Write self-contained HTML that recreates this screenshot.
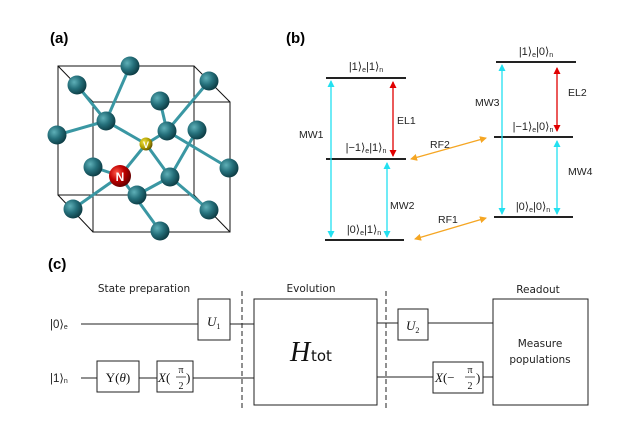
<!DOCTYPE html>
<html><head><style>body{margin:0;background:#fff}svg{display:block}</style></head><body>
<svg width="631" height="432" viewBox="0 0 631 432" xmlns="http://www.w3.org/2000/svg" font-family="Liberation Sans, DejaVu Sans, sans-serif">
<defs>
<radialGradient id="g" cx="0.35" cy="0.35" r="0.7"><stop offset="0" stop-color="#5fb0b8"/><stop offset="0.5" stop-color="#25707b"/><stop offset="1" stop-color="#0c3a42"/></radialGradient>
<radialGradient id="r" cx="0.35" cy="0.35" r="0.7"><stop offset="0" stop-color="#ff5a4a"/><stop offset="0.5" stop-color="#c00000"/><stop offset="1" stop-color="#600000"/></radialGradient>
<radialGradient id="y" cx="0.35" cy="0.35" r="0.7"><stop offset="0" stop-color="#f0e040"/><stop offset="0.6" stop-color="#b0a000"/><stop offset="1" stop-color="#605000"/></radialGradient>
<marker id="ac" markerUnits="userSpaceOnUse" markerWidth="7" markerHeight="7" refX="6" refY="3.5" orient="auto-start-reverse"><path d="M0,0 L7,3.5 L0,7z" fill="#22e0f0"/></marker>
<marker id="ar" markerUnits="userSpaceOnUse" markerWidth="7" markerHeight="7" refX="6" refY="3.5" orient="auto-start-reverse"><path d="M0,0 L7,3.5 L0,7z" fill="#e00000"/></marker>
<marker id="ao" markerUnits="userSpaceOnUse" markerWidth="7" markerHeight="7" refX="6" refY="3.5" orient="auto-start-reverse"><path d="M0,0 L7,3.5 L0,7z" fill="#f5a623"/></marker>
</defs>
<g font-weight="bold" font-size="15">
<text x="50" y="43">(a)</text><text x="286" y="43">(b)</text><text x="48" y="269">(c)</text></g>
<g fill="none" stroke="#111" stroke-width="1">
<rect x="58" y="66" width="136" height="129"/>
<rect x="93" y="102" width="137" height="130"/>
<line x1="58" y1="66" x2="93" y2="102"/><line x1="194" y1="66" x2="230" y2="102"/>
<line x1="58" y1="195" x2="93" y2="232"/><line x1="194" y1="195" x2="230" y2="232"/>
</g>
<g stroke="#3a97a3" stroke-width="3" stroke-linecap="round">
<line x1="130" y1="66" x2="106" y2="121"/><line x1="77" y1="85" x2="106" y2="121"/><line x1="57" y1="135" x2="106" y2="121"/>
<line x1="106" y1="121" x2="146" y2="144"/><line x1="209" y1="81" x2="167" y2="131"/><line x1="160" y1="101" x2="167" y2="131"/>
<line x1="167" y1="131" x2="229" y2="168"/><line x1="146" y1="144" x2="167" y2="131"/><line x1="146" y1="144" x2="170" y2="177"/>
<line x1="170" y1="177" x2="197" y2="130"/><line x1="170" y1="177" x2="137" y2="195"/><line x1="170" y1="177" x2="209" y2="210"/>
<line x1="120" y1="176" x2="146" y2="144"/><line x1="120" y1="176" x2="93" y2="167"/><line x1="120" y1="176" x2="73" y2="209"/><line x1="120" y1="176" x2="160" y2="231"/>
</g>
<g fill="url(#g)">
<circle cx="130" cy="66" r="9.5"/><circle cx="77" cy="85" r="9.5"/><circle cx="209" cy="81" r="9.5"/><circle cx="160" cy="101" r="9.5"/>
<circle cx="106" cy="121" r="9.5"/><circle cx="57" cy="135" r="9.5"/><circle cx="167" cy="131" r="9.5"/><circle cx="197" cy="130" r="9.5"/>
<circle cx="93" cy="167" r="9.5"/><circle cx="170" cy="177" r="9.5"/><circle cx="229" cy="168" r="9.5"/><circle cx="137" cy="195" r="9.5"/>
<circle cx="73" cy="209" r="9.5"/><circle cx="209" cy="210" r="9.5"/><circle cx="160" cy="231" r="9.5"/>
</g>
<circle cx="146" cy="144" r="6.5" fill="url(#y)"/><text x="146" y="148" font-size="9" font-weight="bold" fill="#fff" text-anchor="middle">V</text>
<circle cx="120" cy="176" r="11" fill="url(#r)"/><text x="120" y="181" font-size="12" font-weight="bold" fill="#fff" text-anchor="middle">N</text>
<g stroke="#222" stroke-width="2">
<line x1="326" y1="78" x2="406" y2="78"/><line x1="326" y1="159" x2="406" y2="159"/><line x1="325" y1="240" x2="404" y2="240"/>
<line x1="496" y1="62" x2="576" y2="62"/><line x1="494" y1="137" x2="573" y2="137"/><line x1="494" y1="217" x2="573" y2="217"/>
</g>
<g stroke-width="1.3" fill="none">
<line x1="331" y1="81" x2="331" y2="237" stroke="#22e0f0" marker-start="url(#ac)" marker-end="url(#ac)"/>
<line x1="387" y1="163" x2="387" y2="237" stroke="#22e0f0" marker-start="url(#ac)" marker-end="url(#ac)"/>
<line x1="393" y1="82" x2="393" y2="156" stroke="#e00000" marker-start="url(#ar)" marker-end="url(#ar)"/>
<line x1="502" y1="65" x2="502" y2="214" stroke="#22e0f0" marker-start="url(#ac)" marker-end="url(#ac)"/>
<line x1="557" y1="68" x2="557" y2="131" stroke="#e00000" marker-start="url(#ar)" marker-end="url(#ar)"/>
<line x1="557" y1="141" x2="557" y2="214" stroke="#22e0f0" marker-start="url(#ac)" marker-end="url(#ac)"/>
<line x1="411" y1="159" x2="486" y2="138" stroke="#f5a623" marker-start="url(#ao)" marker-end="url(#ao)"/>
<line x1="415" y1="239" x2="486" y2="218" stroke="#f5a623" marker-start="url(#ao)" marker-end="url(#ao)"/>
</g>
<g font-size="10.5" fill="#222">
<text x="299" y="138">MW1</text><text x="397" y="124">EL1</text><text x="390" y="209">MW2</text>
<text x="430" y="148">RF2</text><text x="438" y="223">RF1</text><text x="475" y="106">MW3</text>
<text x="568" y="96">EL2</text><text x="568" y="175">MW4</text>
</g>
<g font-size="11" fill="#222">
<text x="366" y="70" text-anchor="middle">|1⟩<tspan font-size="7" dy="2">e</tspan><tspan dy="-2">|1⟩</tspan><tspan font-size="7" dy="2">n</tspan></text>
<text x="366" y="151" text-anchor="middle">|−1⟩<tspan font-size="7" dy="2">e</tspan><tspan dy="-2">|1⟩</tspan><tspan font-size="7" dy="2">n</tspan></text>
<text x="364" y="233" text-anchor="middle">|0⟩<tspan font-size="7" dy="2">e</tspan><tspan dy="-2">|1⟩</tspan><tspan font-size="7" dy="2">n</tspan></text>
<text x="536" y="55" text-anchor="middle">|1⟩<tspan font-size="7" dy="2">e</tspan><tspan dy="-2">|0⟩</tspan><tspan font-size="7" dy="2">n</tspan></text>
<text x="533" y="130" text-anchor="middle">|−1⟩<tspan font-size="7" dy="2">e</tspan><tspan dy="-2">|0⟩</tspan><tspan font-size="7" dy="2">n</tspan></text>
<text x="533" y="210" text-anchor="middle">|0⟩<tspan font-size="7" dy="2">e</tspan><tspan dy="-2">|0⟩</tspan><tspan font-size="7" dy="2">n</tspan></text>
</g>
<g stroke="#222" stroke-width="1" fill="none">
<line x1="81" y1="324" x2="198" y2="324"/><line x1="230" y1="324" x2="254" y2="324"/><line x1="377" y1="323" x2="398" y2="323"/><line x1="428" y1="323" x2="493" y2="323"/>
<line x1="81" y1="378" x2="97" y2="378"/><line x1="139" y1="378" x2="157" y2="378"/><line x1="193" y1="378" x2="254" y2="378"/><line x1="377" y1="377" x2="433" y2="377"/><line x1="483" y1="377" x2="493" y2="377"/>
<rect x="198" y="299" width="32" height="41"/><rect x="97" y="361" width="42" height="31"/><rect x="157" y="361" width="36" height="31"/>
<rect x="254" y="299" width="123" height="106"/><rect x="398" y="309" width="30" height="31"/><rect x="433" y="362" width="50" height="31"/><rect x="493" y="299" width="95" height="106"/>
<line x1="242" y1="291" x2="242" y2="410" stroke-dasharray="5,3"/><line x1="386" y1="291" x2="386" y2="410" stroke-dasharray="5,3"/>
</g>
<g font-size="10.5" fill="#222" font-family="DejaVu Sans, sans-serif" text-anchor="middle">
<text x="144" y="292">State preparation</text><text x="311" y="292">Evolution</text><text x="538" y="293">Readout</text>
<text x="540" y="347">Measure</text><text x="540" y="363">populations</text>
</g>
<g font-size="11.5" fill="#222">
<text x="50" y="328">|0⟩<tspan font-size="7" dy="1">e</tspan></text>
<text x="50" y="382">|1⟩<tspan font-size="7" dy="1">n</tspan></text>
</g>
<g font-family="Liberation Serif, serif" fill="#111">
<text x="207" y="326" font-size="13" font-style="italic">U<tspan font-size="8" dy="3" font-style="normal">1</tspan></text>
<text x="406" y="330" font-size="13" font-style="italic">U<tspan font-size="8" dy="3" font-style="normal">2</tspan></text>
<text x="118" y="382" font-size="13" text-anchor="middle">Y(<tspan font-style="italic">θ</tspan>)</text>
<text x="158" y="382" font-size="13"><tspan font-style="italic">X</tspan>(</text>
<text x="181" y="373" font-size="10" text-anchor="middle">π</text><line x1="176" y1="377" x2="186" y2="377" stroke="#111" stroke-width="0.7"/><text x="181" y="389" font-size="10" text-anchor="middle">2</text>
<text x="186" y="382" font-size="13">)</text>
<text x="435" y="382" font-size="13"><tspan font-style="italic">X</tspan>(−</text>
<text x="470" y="373" font-size="10" text-anchor="middle">π</text><line x1="465" y1="377" x2="475" y2="377" stroke="#111" stroke-width="0.7"/><text x="470" y="389" font-size="10" text-anchor="middle">2</text>
<text x="476" y="382" font-size="13">)</text>
<text x="290" y="361" font-size="28" font-style="italic">H</text>
<text x="311" y="361" font-size="15" font-family="DejaVu Sans, sans-serif">tot</text>
</g>
</svg>
</body></html>
